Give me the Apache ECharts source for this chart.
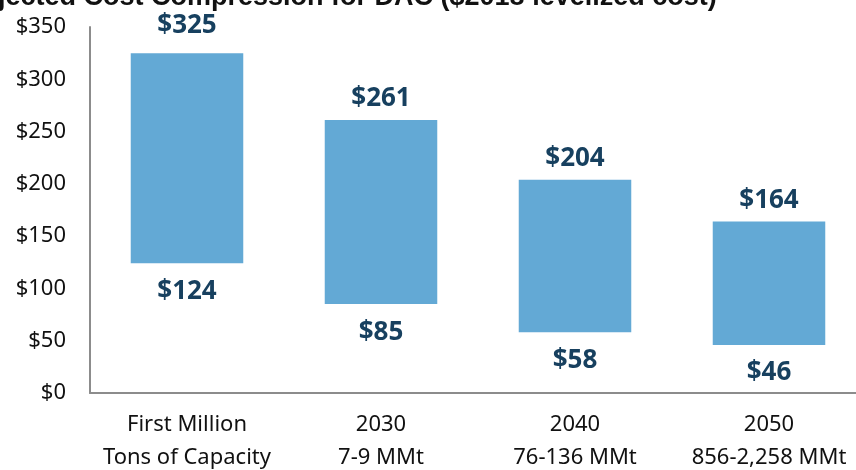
<!DOCTYPE html>
<html>
<head>
<meta charset="utf-8">
<script src="https://cdn.jsdelivr.net/npm/echarts@6/dist/echarts.min.js"></script>
<style>
  html, body { margin: 0; padding: 0; background: #fff; overflow: hidden; }
  #chart { width: 856px; height: 470px; }
</style>
</head>
<body>
<div id="chart"></div>
<script>
// projected DAC cost range, $/t (2018 levelized)
const categories = ['First Million\nTons of Capacity', '2030\n7-9 MMt', '2040\n76-136 MMt', '2050\n856-2,258 MMt']
const lows = [124, 85, 58, 46]
const highs = [325, 261, 204, 164]
const yTicks = [0, 50, 100, 150, 200, 250, 300, 350]

const chart = echarts.init(document.getElementById('chart'), null, { renderer: 'canvas' })

const labelStyle = { color: '#17405f', fontSize: 26, fontWeight: 'bold', fontFamily: 'Noto Sans' }

chart.setOption({
  animation: false,
  backgroundColor: '#fff',
  title: {
    text: 'Projected Cost Compression for DAC ($2018 levelized cost)',
    left: -52, top: -21,
    textStyle: { color: '#111', fontSize: 27, fontWeight: 'bold', fontFamily: 'Liberation Sans' },
  },
  // plot runs past the right edge, as in the cropped original
  grid: { left: 90, width: 776, top: 27, bottom: 77, outerBoundsMode: 'none' },
  xAxis: {
    type: 'category', data: categories,
    axisLine: { lineStyle: { color: '#8c8c8c', width: 2 } },
    axisTick: { show: false },
    axisLabel: { interval: 0, color: '#111', fontSize: 22, lineHeight: 33, margin: 15, fontFamily: 'Noto Sans' },
  },
  yAxis: {
    type: 'value', min: yTicks[0], max: yTicks[yTicks.length - 1], interval: 50,
    axisLine: { show: true, lineStyle: { color: '#8c8c8c', width: 2 } },
    axisTick: { show: false },
    splitLine: { show: false },
    axisLabel: { color: '#111', fontSize: 22, margin: 24, fontFamily: 'Noto Sans', formatter: v => '$' + v },
  },
  series: [
    {
      type: 'bar', stack: 'range', data: lows, barWidth: '58%',
      itemStyle: { color: 'transparent' },
      label: { show: true, position: 'insideTop', distance: 0, offset: [0, 15], ...labelStyle, formatter: p => '$' + p.value },
    },
    {
      type: 'bar', stack: 'range', barWidth: '58%',
      data: highs.map((h, i) => ({ value: h - lows[i], label: i === 0 ? { distance: 15 } : undefined })),
      itemStyle: { color: '#63a9d5' },
      label: { show: true, position: 'top', distance: 8, ...labelStyle, formatter: p => '$' + highs[p.dataIndex] },
    },
  ],
})
</script>
</body>
</html>
